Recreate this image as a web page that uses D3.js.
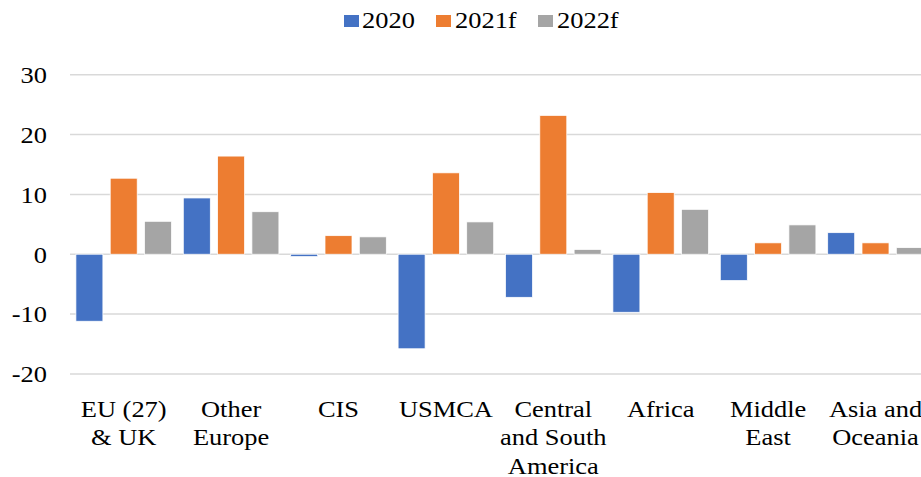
<!DOCTYPE html>
<html>
<head>
<meta charset="utf-8">
<script src="https://cdn.jsdelivr.net/npm/d3@7"></script>
<style>
  html, body { margin: 0; padding: 0; background: #fff; }
  svg { display: block; }
  text { font-family: "Liberation Serif", "Times New Roman", serif; fill: #000; }
</style>
</head>
<body>
<svg id="chart" width="921" height="477"></svg>
<script>
const categories = [
  ["EU (27)", "& UK"],
  ["Other", "Europe"],
  ["CIS"],
  ["USMCA"],
  ["Central", "and South", "America"],
  ["Africa"],
  ["Middle", "East"],
  ["Asia and", "Oceania"]
];
const seriesNames = ["2020", "2021f", "2022f"];
const values2020  = [-11.2, 9.4, -0.4, -15.8, -7.2, -9.7, -4.4, 3.6];
const values2021f = [12.7, 16.4, 3.1, 13.6, 23.2, 10.3, 1.9, 1.9];
const values2022f = [5.5, 7.1, 2.9, 5.4, 0.8, 7.5, 4.9, 1.1];
const yTicks = [-20, -10, 0, 10, 20, 30];
const colors = ["#4472C4", "#ED7D31", "#A5A5A5"];

const seriesValues = [values2020, values2021f, values2022f];
const catKeys = categories.map(c => c.join(" "));

const svg = d3.select("#chart");
const SX = 1.15; // horizontal stretch of text in reference
const FS = 23;

const x0 = d3.scaleBand().domain(catKeys).range([70, 70 + 8 * 107.4]).padding(0);
const x1 = d3.scaleBand().domain(seriesNames).range([5.9, 107.4 - 5.9]).paddingInner(0.213).paddingOuter(0);
const y = d3.scaleLinear().domain([-20, 30]).range([373.9, 74.7]);
const color = d3.scaleOrdinal().domain(seriesNames).range(colors);

// gridlines
const grid = svg.append("g").attr("class", "grid");
grid.selectAll("line").data(yTicks).join("line")
  .attr("x1", 70).attr("x2", 921)
  .attr("y1", d => y(d)).attr("y2", d => y(d))
  .attr("stroke", "#D9D9D9").attr("stroke-width", 1.5);

// y tick labels via axis
const yAxis = svg.append("g").attr("transform", "translate(47,0)")
  .call(d3.axisLeft(y).tickValues(yTicks).tickSize(0).tickPadding(0).tickFormat(d => String(d)));
yAxis.attr("font-family", null).attr("font-size", null);
yAxis.select(".domain").remove();
yAxis.selectAll("text")
  .attr("font-size", FS)
  .attr("fill", "#000")
  .attr("dy", "0.34em")
  .attr("transform", `scale(${SX},1)`)
  .attr("x", 0);

// bars
const groups = svg.append("g").selectAll("g").data(catKeys).join("g")
  .attr("transform", d => `translate(${x0(d)},0)`);
groups.selectAll("rect")
  .data((d, i) => seriesNames.map((s, j) => ({ s, v: seriesValues[j][i] })))
  .join("rect")
  .attr("x", d => x1(d.s))
  .attr("width", x1.bandwidth())
  .attr("y", d => y(Math.max(0, d.v)))
  .attr("height", d => Math.abs(y(d.v) - y(0)))
  .attr("fill", d => color(d.s))
  .attr("stroke", "#fff")
  .attr("stroke-width", 0.75);

// category labels
const catG = svg.append("g");
catKeys.forEach((k, i) => {
  const cx = x0(k) + x0.bandwidth() / 2;
  const t = catG.append("text")
    .attr("text-anchor", "middle")
    .attr("font-size", FS)
    .attr("transform", `translate(${cx},416.5) scale(${SX},1)`);
  categories[i].forEach((line, li) => {
    t.append("tspan").attr("x", 0).attr("y", li * 29).text(line);
  });
});

// legend
const legendItems = [
  { name: "2020", sx: 344, tx: 362 },
  { name: "2021f", sx: 436, tx: 455 },
  { name: "2022f", sx: 538, tx: 557 }
];
const lg = svg.append("g");
legendItems.forEach(it => {
  lg.append("rect").attr("x", it.sx).attr("y", 15).attr("width", 15).attr("height", 12)
    .attr("fill", color(it.name));
  lg.append("text").attr("font-size", FS)
    .attr("transform", `translate(${it.tx},28.3) scale(${SX},1)`)
    .text(it.name);
});
</script>
</body>
</html>
